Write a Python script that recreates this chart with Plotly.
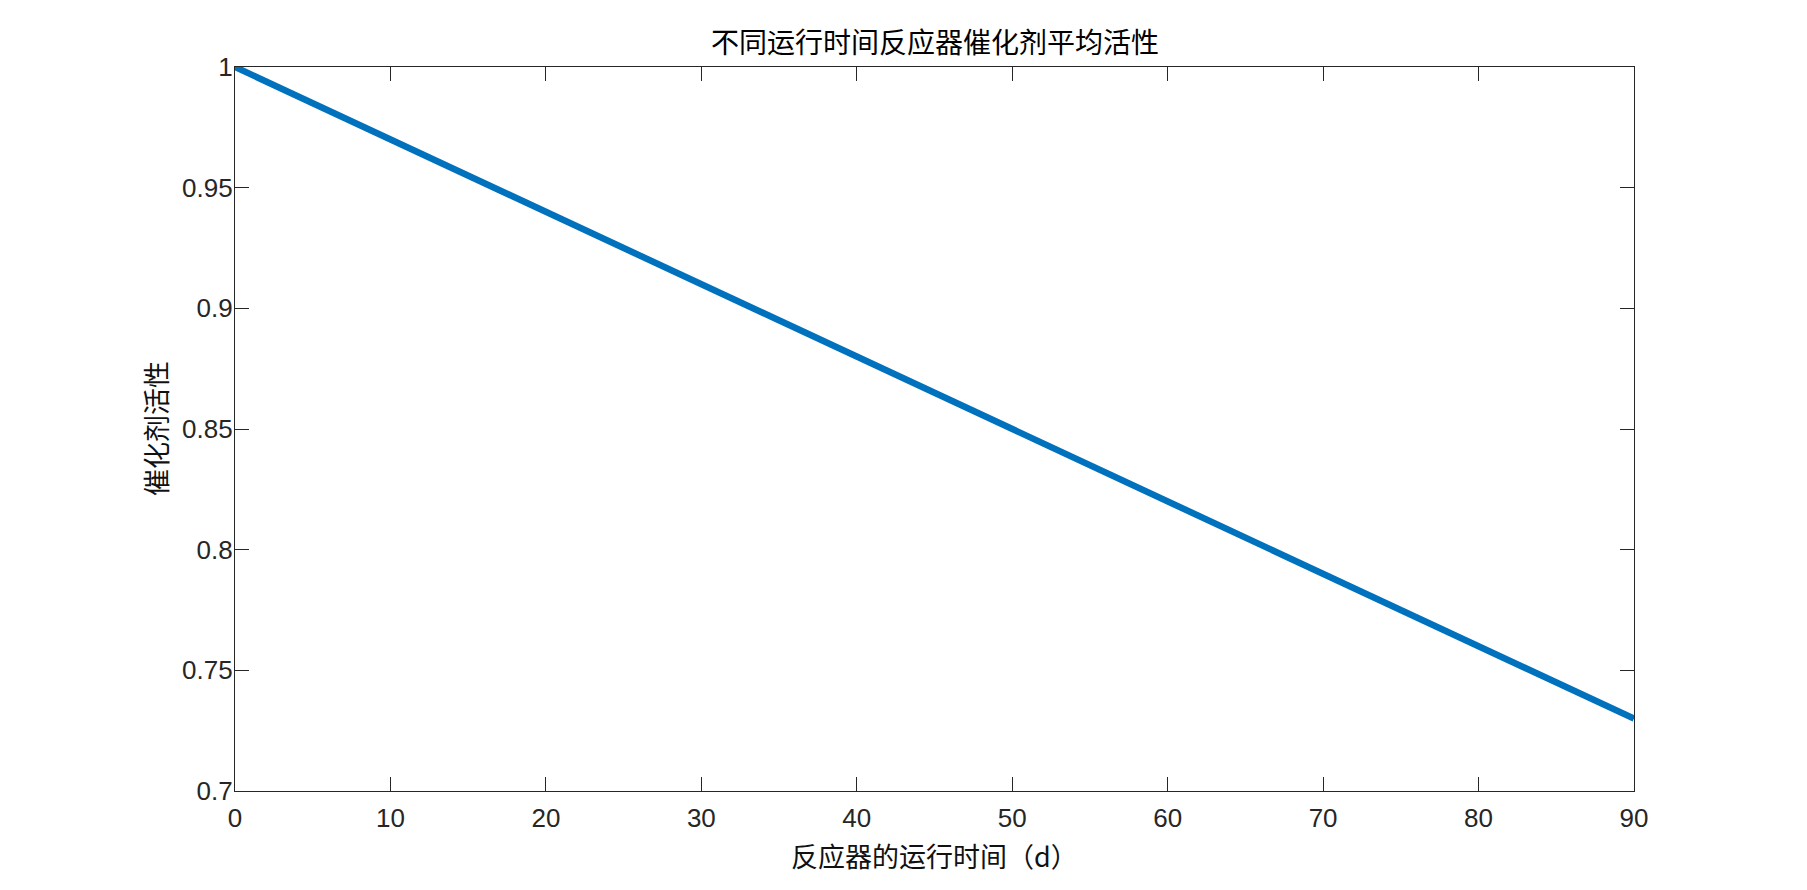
import plotly.graph_objects as go

days = [0, 10, 20, 30, 40, 50, 60, 70, 80, 90]
activity = [1.0, 0.97, 0.94, 0.91, 0.88, 0.85, 0.82, 0.79, 0.76, 0.73]

x_ticks = [0, 10, 20, 30, 40, 50, 60, 70, 80, 90]
y_ticks = [0.7, 0.75, 0.8, 0.85, 0.9, 0.95, 1.0]
y_ticktext = ["0.7", "0.75", "0.8", "0.85", "0.9", "0.95", "1"]

title_text = "不同运行时间反应器催化剂平均活性"
x_title = "反应器的运行时间（d）"
y_title = "催化剂活性"

W, H = 1807, 890
OFF = 8  # page body margin
L, R, T, B = 235 - OFF, 173 + OFF, 67 - OFF, 99 + OFF
PW, PH = W - L - R, H - T - B

font_family = "Liberation Sans, Arial, Noto Sans CJK SC"
cjk_family = "Noto Sans CJK SC"
axis_color = "#262626"

fig = go.Figure()
fig.add_trace(go.Scatter(
    x=days, y=activity, mode="lines",
    line=dict(color="#0072BD", width=6.5),
    showlegend=False,
))

axis_common = dict(
    showline=True, linecolor=axis_color, linewidth=1.2, mirror="ticks",
    ticks="inside", ticklen=14, tickwidth=1.2, tickcolor=axis_color,
    showgrid=False, zeroline=False,
    tickfont=dict(family=font_family, size=26, color=axis_color),
)

fig.update_layout(
    width=W, height=H,
    margin=dict(l=L, r=R, t=T, b=B),
    paper_bgcolor="white", plot_bgcolor="white",
    font=dict(family=font_family, color=axis_color),
    title=dict(text=title_text, x=(935 - OFF) / W, xanchor="center",
               y=1 - (43 - OFF) / H, yanchor="middle", yref="container",
               font=dict(family=cjk_family, size=28, color="#000000")),
    xaxis=dict(range=[0, 90], tickvals=x_ticks, ticklabelstandoff=4, **axis_common),
    yaxis=dict(range=[0.7, 1.0], tickvals=y_ticks, ticktext=y_ticktext, ticklabelstandoff=-4, **axis_common),
    annotations=[
        dict(text=x_title, xref="paper", yref="paper", x=0.5, y=-(855 - 791) / PH,
             xanchor="center", yanchor="middle", showarrow=False,
             font=dict(family=cjk_family, size=27, color="#111111")),
        dict(text=y_title, xref="paper", yref="paper", x=-(235 - 155) / PW, y=0.5,
             xanchor="center", yanchor="middle", showarrow=False, textangle=-90,
             font=dict(family=cjk_family, size=27, color="#111111")),
    ],
)

fig.write_html("out.html")
